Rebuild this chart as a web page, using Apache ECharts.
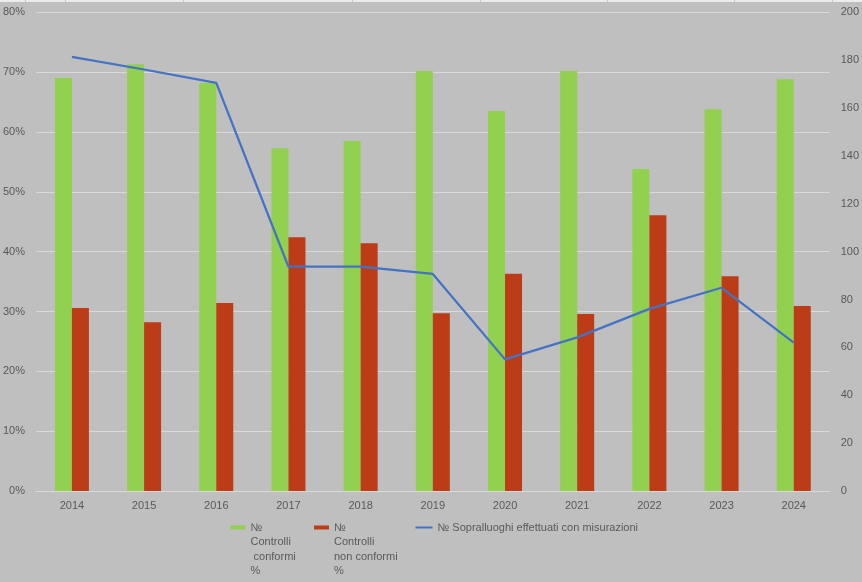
<!DOCTYPE html>
<html>
<head>
<meta charset="utf-8">
<script src="https://cdn.jsdelivr.net/npm/echarts@6/dist/echarts.min.js"></script>
<style>
html,body{margin:0;padding:0;background:#BFBFBF;}
#chart{width:862px;height:582px;}
</style>
</head>
<body>
<div id="chart"></div>
<script>
var categories = ['2014','2015','2016','2017','2018','2019','2020','2021','2022','2023','2024'];
var conformi = [69.0, 71.3, 68.2, 57.3, 58.5, 70.2, 63.5, 70.2, 53.8, 63.8, 68.8];
var nonConformi = [30.6, 28.2, 31.4, 42.4, 41.4, 29.7, 36.3, 29.6, 46.1, 35.9, 30.9];
var sopralluoghi = [181.4, 176.1, 170.5, 93.7, 93.7, 90.7, 55.0, 64.2, 76.1, 84.9, 62.0];
var leftTicks = [0, 10, 20, 30, 40, 50, 60, 70, 80];
var rightTicks = [0, 20, 40, 60, 80, 100, 120, 140, 160, 180, 200];

var nameC = '№\nControlli\n conformi\n%';
var nameN = '№\nControlli\nnon conformi\n%';
var nameS = '№ Sopralluoghi effettuati con misurazioni';

var FONT = 'Liberation Sans';
var TXT = '#595959';

// legend key: a thin bar aligned with the first text line of a 4-line block (58.4 px tall)
var barKey = 'path://M0,5.3H15V9.3H0Z M0,0H0.01V0.01H0Z M14.99,58.39H15V58.4H14.99Z';

var chart = echarts.init(document.getElementById('chart'));
var legendText = {color: TXT, fontSize: 11, fontFamily: FONT, lineHeight: 14.6};
var option = {
  backgroundColor: '#BFBFBF',
  animation: false,
  textStyle: {fontFamily: FONT},
  grid: {left: 33.8, right: 31.8, top: 12.3, bottom: 91, containLabel: false},
  graphic: [
    {type: 'rect', left: 0, top: 0, shape: {width: 862, height: 2}, style: {fill: '#ececec'}, silent: true}
  ].concat([25, 65, 183, 352, 480, 607, 734, 832].map(function (x) {
    return {type: 'rect', left: x, top: 0, shape: {width: 1, height: 2}, style: {fill: '#c8c8c8'}, silent: true};
  })),
  legend: [
    {data: [nameC], left: 230.5, top: 520.2, padding: 0, itemWidth: 15, itemHeight: 58.4, itemGap: 0,
     textStyle: legendText, icon: barKey},
    {data: [nameN], left: 314, top: 520.2, padding: 0, itemWidth: 15, itemHeight: 58.4, itemGap: 0,
     textStyle: legendText, icon: barKey},
    {data: [nameS], left: 415.5, top: 520.2, padding: 0, itemWidth: 17, itemHeight: 2, itemGap: 0,
     textStyle: legendText, icon: 'rect'}
  ],
  xAxis: {
    type: 'category',
    data: categories,
    axisLine: {show: true, lineStyle: {color: '#D9D9D9', width: 1}},
    axisTick: {show: false},
    axisLabel: {color: TXT, fontSize: 11, fontFamily: FONT, margin: 9},
    splitLine: {show: false}
  },
  yAxis: [
    {
      type: 'value', min: 0, max: 80, interval: 10,
      axisLine: {show: false}, axisTick: {show: false},
      axisLabel: {color: TXT, fontSize: 11, fontFamily: FONT, margin: 10.8, formatter: '{value}%'},
      splitLine: {show: true, lineStyle: {color: '#D9D9D9', width: 1}}
    },
    {
      type: 'value', min: 0, max: 200, interval: 20,
      axisLine: {show: false}, axisTick: {show: false},
      axisLabel: {color: TXT, fontSize: 11, fontFamily: FONT, margin: 10.8},
      splitLine: {show: false}
    }
  ],
  series: [
    {name: nameC, type: 'bar', data: conformi, barWidth: 17, barGap: '0%',
     itemStyle: {color: '#92D050'}, yAxisIndex: 0},
    {name: nameN, type: 'bar', data: nonConformi, barWidth: 17, barGap: '0%',
     itemStyle: {color: '#BC3C18'}, yAxisIndex: 0},
    {name: nameS, type: 'line', data: sopralluoghi, yAxisIndex: 1,
     symbol: 'none', showSymbol: false,
     lineStyle: {color: '#4472C4', width: 2.25}, itemStyle: {color: '#4472C4'}}
  ]
};
chart.setOption(option);
</script>
</body>
</html>
